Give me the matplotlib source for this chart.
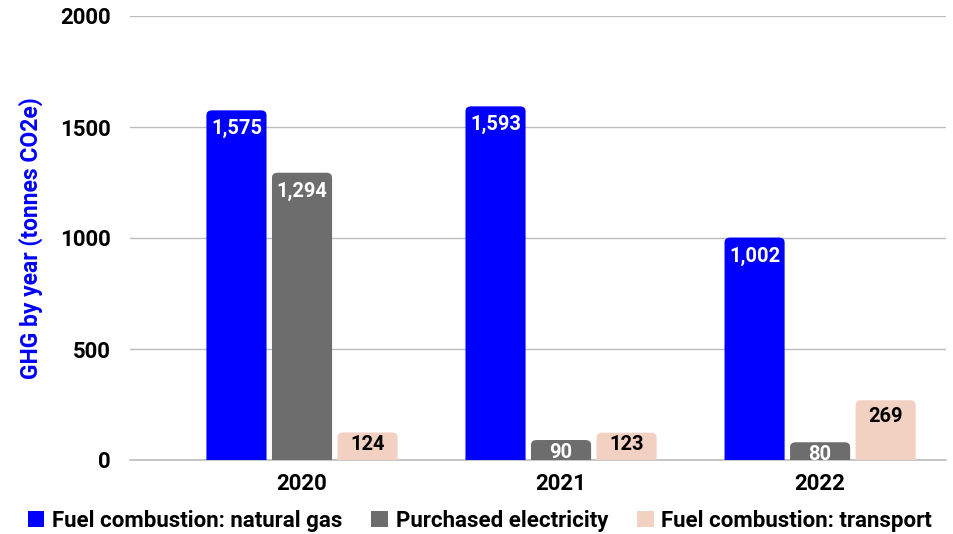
import matplotlib.pyplot as plt
import numpy as np
from matplotlib.patches import FancyBboxPatch, Patch

years = ["2020", "2021", "2022"]
natural_gas = [1575, 1593, 1002]
electricity = [1294, 90, 80]
transport = [124, 123, 269]

series = [
    ("Fuel combustion: natural gas", natural_gas, "#0000ff", "white"),
    ("Purchased electricity", electricity, "#6d6d6d", "white"),
    ("Fuel combustion: transport", transport, "#f2d0c2", "black"),
]

FONT = "Roboto"
BAR_W = 0.232
STEP = 0.253

fig = plt.figure(figsize=(9.54, 5.34), dpi=100)
ax = fig.add_axes([130 / 954, 1 - 460 / 534, 816 / 954, 444 / 534])

x = np.arange(len(years))
handles = []
for i, (name, vals, color, txt) in enumerate(series):
    pos = x + (i - 1) * STEP
    handles.append(Patch(facecolor=color, label=name))
    for p, v in zip(pos, vals):
        rp = FancyBboxPatch((p - BAR_W / 2, -100), BAR_W, v + 100,
                            boxstyle="round,pad=0,rounding_size=0.022",
                            mutation_aspect=1000, facecolor=color,
                            edgecolor="none", zorder=3)
        ax.add_patch(rp)
        if v > 1000:
            off = -6.5
        elif v > 200:
            off = -4.5
        else:
            off = -2
        ax.annotate(f"{v:,}", (p, v), xytext=(0, off),
                    textcoords="offset points", ha="center", va="top",
                    color=txt, fontsize=14.5, fontweight="bold", family=FONT,
                    zorder=4)

ax.set_xlim(-0.664, 2.486)
ax.set_ylim(0, 2000)
ax.set_yticks([0, 500, 1000, 1500, 2000])
ax.set_xticks(x)
ax.set_xticklabels(years)
ax.grid(axis="y", color="#bdbdbd", linewidth=1, zorder=0)
ax.set_axisbelow(True)
for s in ["top", "right", "left"]:
    ax.spines[s].set_visible(False)
ax.spines["bottom"].set_color("#bdbdbd")
ax.spines["bottom"].set_linewidth(1.2)
ax.tick_params(axis="both", length=0, labelsize=16)
ax.tick_params(axis="y", pad=14)
ax.tick_params(axis="x", pad=9)
for lbl in ax.get_xticklabels() + ax.get_yticklabels():
    lbl.set_fontweight("bold")
    lbl.set_family(FONT)

ax.set_ylabel("GHG by year (tonnes CO2e)", color="#0000ff", fontsize=16.5,
              fontweight="bold", family=FONT, labelpad=12)

fig.legend(handles=handles, loc="center", bbox_to_anchor=(0.503, 1 - 521 / 534),
           ncol=3, frameon=False, handlelength=0.75, handleheight=0.75,
           handletextpad=0.35, columnspacing=1.3,
           prop={"family": FONT, "weight": "bold", "size": 16})

fig.savefig("out.png", dpi=100)
